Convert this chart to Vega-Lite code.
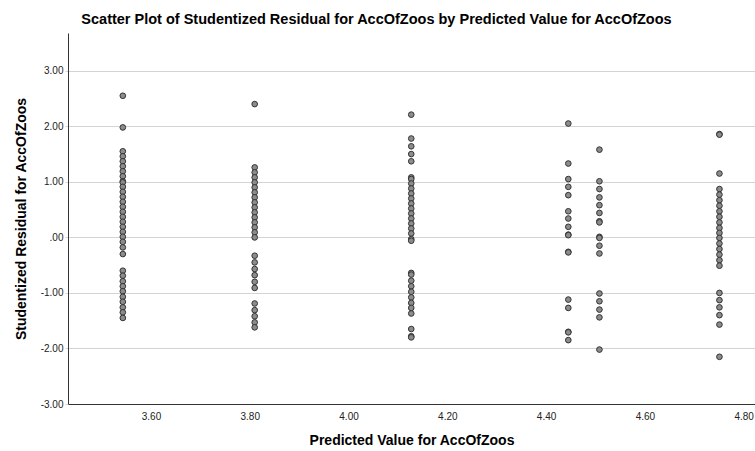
{
  "$schema": "https://vega.github.io/schema/vega-lite/v6.json",
  "width": 687,
  "height": 371,
  "autosize": {"type": "none"},
  "padding": {"left": 68, "top": 33, "right": 0, "bottom": 47},
  "background": "white",
  "config": {"view": {"stroke": null}, "font": "Liberation Sans"},
  "title": {"text": "Scatter Plot of Studentized Residual for AccOfZoos by Predicted Value for AccOfZoos", "fontSize": 14.5, "fontWeight": "bold", "color": "#000000", "anchor": "middle", "dx": -35, "offset": 6},
  "datasets": {
    "pts": [
      {"p": 3.543, "r": 2.55}, {"p": 3.543, "r": 1.98}, {"p": 3.543, "r": 1.55}, {"p": 3.543, "r": 1.46}, {"p": 3.543, "r": 1.37}, {"p": 3.543, "r": 1.28}, {"p": 3.543, "r": 1.19}, {"p": 3.543, "r": 1.10}, {"p": 3.543, "r": 1.01}, {"p": 3.543, "r": 0.99}, {"p": 3.543, "r": 0.91}, {"p": 3.543, "r": 0.82}, {"p": 3.543, "r": 0.73}, {"p": 3.543, "r": 0.64}, {"p": 3.543, "r": 0.55}, {"p": 3.543, "r": 0.46}, {"p": 3.543, "r": 0.37}, {"p": 3.543, "r": 0.28}, {"p": 3.543, "r": 0.19}, {"p": 3.543, "r": 0.10}, {"p": 3.543, "r": 0.01}, {"p": 3.543, "r": -0.08}, {"p": 3.543, "r": -0.18}, {"p": 3.543, "r": -0.30}, {"p": 3.543, "r": -0.60}, {"p": 3.543, "r": -0.69}, {"p": 3.543, "r": -0.79}, {"p": 3.543, "r": -0.88}, {"p": 3.543, "r": -0.97}, {"p": 3.543, "r": -1.07}, {"p": 3.543, "r": -1.16}, {"p": 3.543, "r": -1.26}, {"p": 3.543, "r": -1.35}, {"p": 3.543, "r": -1.45},
      {"p": 3.81, "r": 2.40}, {"p": 3.81, "r": 1.26}, {"p": 3.81, "r": 1.17}, {"p": 3.81, "r": 1.08}, {"p": 3.81, "r": 0.99}, {"p": 3.81, "r": 0.90}, {"p": 3.81, "r": 0.81}, {"p": 3.81, "r": 0.72}, {"p": 3.81, "r": 0.63}, {"p": 3.81, "r": 0.54}, {"p": 3.81, "r": 0.45}, {"p": 3.81, "r": 0.36}, {"p": 3.81, "r": 0.27}, {"p": 3.81, "r": 0.18}, {"p": 3.81, "r": 0.09}, {"p": 3.81, "r": 0.00}, {"p": 3.81, "r": -0.33}, {"p": 3.81, "r": -0.45}, {"p": 3.81, "r": -0.57}, {"p": 3.81, "r": -0.68}, {"p": 3.81, "r": -0.80}, {"p": 3.81, "r": -0.91}, {"p": 3.81, "r": -1.19}, {"p": 3.81, "r": -1.31}, {"p": 3.81, "r": -1.42}, {"p": 3.81, "r": -1.53}, {"p": 3.81, "r": -1.62},
      {"p": 4.127, "r": 2.21}, {"p": 4.127, "r": 1.78}, {"p": 4.127, "r": 1.64}, {"p": 4.127, "r": 1.50}, {"p": 4.127, "r": 1.37}, {"p": 4.127, "r": 1.08}, {"p": 4.127, "r": 1.05}, {"p": 4.127, "r": 0.97}, {"p": 4.127, "r": 0.88}, {"p": 4.127, "r": 0.79}, {"p": 4.127, "r": 0.70}, {"p": 4.127, "r": 0.61}, {"p": 4.127, "r": 0.52}, {"p": 4.127, "r": 0.43}, {"p": 4.127, "r": 0.34}, {"p": 4.127, "r": 0.25}, {"p": 4.127, "r": 0.16}, {"p": 4.127, "r": 0.07}, {"p": 4.127, "r": -0.03}, {"p": 4.127, "r": -0.06}, {"p": 4.127, "r": -0.64}, {"p": 4.127, "r": -0.67}, {"p": 4.127, "r": -0.78}, {"p": 4.127, "r": -0.88}, {"p": 4.127, "r": -0.98}, {"p": 4.127, "r": -1.08}, {"p": 4.127, "r": -1.18}, {"p": 4.127, "r": -1.27}, {"p": 4.127, "r": -1.37}, {"p": 4.127, "r": -1.65}, {"p": 4.127, "r": -1.78}, {"p": 4.127, "r": -1.80},
      {"p": 4.445, "r": 2.05}, {"p": 4.445, "r": 1.33}, {"p": 4.445, "r": 1.05}, {"p": 4.445, "r": 0.91}, {"p": 4.445, "r": 0.76}, {"p": 4.445, "r": 0.47}, {"p": 4.445, "r": 0.34}, {"p": 4.445, "r": 0.19}, {"p": 4.445, "r": 0.05}, {"p": 4.445, "r": 0.04}, {"p": 4.445, "r": -0.26}, {"p": 4.445, "r": -0.27}, {"p": 4.445, "r": -1.12}, {"p": 4.445, "r": -1.27}, {"p": 4.445, "r": -1.70}, {"p": 4.445, "r": -1.71}, {"p": 4.445, "r": -1.85},
      {"p": 4.508, "r": 1.58}, {"p": 4.508, "r": 1.01}, {"p": 4.508, "r": 0.87}, {"p": 4.508, "r": 0.72}, {"p": 4.508, "r": 0.58}, {"p": 4.508, "r": 0.44}, {"p": 4.508, "r": 0.29}, {"p": 4.508, "r": 0.27}, {"p": 4.508, "r": 0.01}, {"p": 4.508, "r": -0.01}, {"p": 4.508, "r": -0.15}, {"p": 4.508, "r": -0.29}, {"p": 4.508, "r": -1.01}, {"p": 4.508, "r": -1.15}, {"p": 4.508, "r": -1.30}, {"p": 4.508, "r": -1.44}, {"p": 4.508, "r": -2.02},
      {"p": 4.751, "r": 1.86}, {"p": 4.751, "r": 1.85}, {"p": 4.751, "r": 1.15}, {"p": 4.751, "r": 0.87}, {"p": 4.751, "r": 0.77}, {"p": 4.751, "r": 0.67}, {"p": 4.751, "r": 0.57}, {"p": 4.751, "r": 0.47}, {"p": 4.751, "r": 0.37}, {"p": 4.751, "r": 0.27}, {"p": 4.751, "r": 0.17}, {"p": 4.751, "r": 0.08}, {"p": 4.751, "r": -0.01}, {"p": 4.751, "r": -0.11}, {"p": 4.751, "r": -0.21}, {"p": 4.751, "r": -0.31}, {"p": 4.751, "r": -0.41}, {"p": 4.751, "r": -0.51}, {"p": 4.751, "r": -1.00}, {"p": 4.751, "r": -1.13}, {"p": 4.751, "r": -1.26}, {"p": 4.751, "r": -1.40}, {"p": 4.751, "r": -1.57}, {"p": 4.751, "r": -2.15}
    ]
  },
  "data": {"name": "pts"},
  "mark": {"type": "point", "shape": "circle", "filled": false, "size": 32, "fill": "#8c8c8c", "fillOpacity": 1, "stroke": "#333333", "strokeWidth": 1, "opacity": 1},
  "encoding": {
    "x": {
      "field": "p", "type": "quantitative",
      "scale": {"domain": [3.432, 4.823], "nice": false, "zero": false},
      "axis": {"values": [3.6, 3.8, 4.0, 4.2, 4.4, 4.6, 4.8], "format": ".2f", "grid": false, "ticks": false, "domainColor": "#333333", "labelFontSize": 10, "labelColor": "#222222", "labelPadding": 7, "labelFlush": false, "title": "Predicted Value for AccOfZoos", "titleFontSize": 14, "titleFontWeight": "bold", "titleColor": "#000000", "titlePadding": 12}
    },
    "y": {
      "field": "r", "type": "quantitative",
      "scale": {"domain": [-3, 3.68], "nice": false, "zero": false},
      "axis": {"values": [-3, -2, -1, 0, 1, 2, 3], "labelExpr": "datum.value == 0 ? '.00' : (datum.value < 0 ? '-' : '') + format(abs(datum.value), '.2f')", "grid": true, "gridColor": "#d4d4d4", "gridWidth": 1, "ticks": true, "tickSize": 3, "tickColor": "#d4d4d4", "domainColor": "#333333", "labelFontSize": 10, "labelColor": "#222222", "labelPadding": 2, "labelFlush": false, "title": "Studentized Residual for AccOfZoos", "titleFontSize": 14, "titleFontWeight": "bold", "titleColor": "#000000", "titlePadding": 12}
    }
  }
}
